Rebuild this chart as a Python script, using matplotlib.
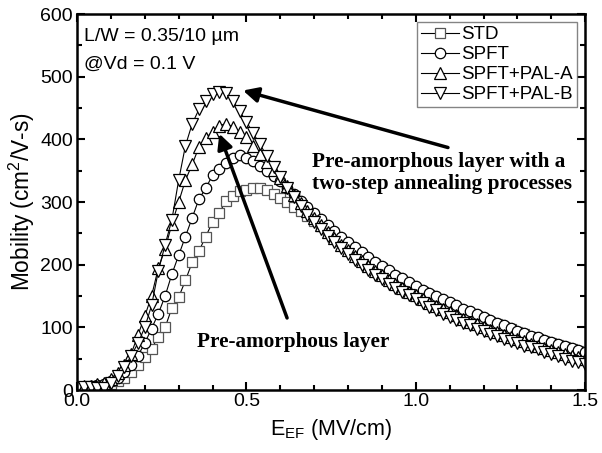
import matplotlib
matplotlib.use("Agg")
import matplotlib.pyplot as plt
from matplotlib.ticker import MultipleLocator, FormatStrFormatter

E_EF = [0.00, 0.02, 0.04, 0.06, 0.08, 0.10, 0.12, 0.14, 0.16, 0.18,
        0.20, 0.22, 0.24, 0.26, 0.28, 0.30, 0.32, 0.34, 0.36, 0.38,
        0.40, 0.42, 0.44, 0.46, 0.48, 0.50, 0.52, 0.54, 0.56, 0.58,
        0.60, 0.62, 0.64, 0.66, 0.68, 0.70, 0.72, 0.74, 0.76, 0.78,
        0.80, 0.82, 0.84, 0.86, 0.88, 0.90, 0.92, 0.94, 0.96, 0.98,
        1.00, 1.02, 1.04, 1.06, 1.08, 1.10, 1.12, 1.14, 1.16, 1.18,
        1.20, 1.22, 1.24, 1.26, 1.28, 1.30, 1.32, 1.34, 1.36, 1.38,
        1.40, 1.42, 1.44, 1.46, 1.48, 1.50]

STD = [3, 3, 4, 5, 6, 9, 14, 20, 29, 40,
       53, 66, 85, 100, 131, 148, 175, 204, 222, 245,
       268, 283, 302, 310, 318, 320, 322, 323, 320, 313,
       307, 300, 292, 286, 278, 270, 262, 254, 246, 238,
       231, 223, 215, 208, 201, 194, 187, 180, 174, 168,
       162, 156, 151, 146, 141, 136, 131, 126, 122, 118,
       113, 109, 105, 101, 97, 93, 89, 85, 82, 78,
       75, 72, 69, 65, 62, 59]

SPFT = [4, 5, 6, 8, 10, 14, 20, 28, 40, 55,
        75, 98, 122, 150, 185, 215, 245, 275, 305, 322,
        343, 352, 363, 370, 375, 371, 366, 358, 350, 341,
        333, 323, 313, 302, 292, 283, 273, 264, 254, 245,
        237, 228, 220, 212, 205, 198, 191, 184, 178, 172,
        166, 160, 155, 150, 145, 140, 135, 130, 126, 121,
        116, 112, 107, 103, 99, 95, 91, 87, 84, 80,
        77, 74, 71, 67, 64, 61]

PAL_A = [5, 6, 7, 9, 12, 17, 27, 40, 58, 88,
         118, 150, 195, 225, 265, 300, 335, 360, 388, 402,
         412, 422, 425, 420, 412, 403, 390, 377, 364, 351,
         338, 325, 311, 298, 286, 274, 263, 252, 242, 232,
         223, 214, 206, 198, 190, 183, 176, 169, 163, 157,
         151, 145, 139, 134, 129, 124, 119, 114, 109, 105,
         100, 96, 92, 88, 85, 81, 78, 74, 71, 67,
         64, 61, 58, 55, 52, 50]

PAL_B = [4, 5, 5, 4, 3, 12, 22, 36, 55, 75,
         100, 135, 190, 232, 272, 335, 390, 425, 448, 462,
         472, 476, 474, 462, 445, 428, 410, 392, 374, 356,
         340, 323, 308, 294, 280, 268, 257, 246, 236, 226,
         217, 208, 200, 192, 184, 177, 170, 163, 157, 151,
         145, 139, 133, 128, 122, 117, 112, 107, 103, 98,
         94, 90, 86, 82, 78, 75, 71, 68, 65, 61,
         58, 55, 50, 47, 44, 41]

series = [
    ("STD", STD, "s", 6.5, "#555555"),
    ("SPFT", SPFT, "o", 7.5, "black"),
    ("SPFT+PAL-A", PAL_A, "^", 9, "black"),
    ("SPFT+PAL-B", PAL_B, "v", 9, "black"),
]

plt.rcParams["font.family"] = ["Liberation Sans", "DejaVu Sans"]

fig = plt.figure(figsize=(6.02, 4.53), dpi=100)
ax = fig.add_axes([0.128, 0.139, 0.844, 0.830])

for name, vals, mk, ms, ec in series:
    ax.plot(E_EF, vals, color="black", lw=0.8, marker=mk, ms=ms,
            mfc="white", mec=ec, mew=0.9, label=name)

ax.set_xlim(0, 1.5)
ax.set_ylim(0, 600)
ax.xaxis.set_major_locator(MultipleLocator(0.5))
ax.xaxis.set_minor_locator(MultipleLocator(0.1))
ax.yaxis.set_major_locator(MultipleLocator(100))
ax.yaxis.set_minor_locator(MultipleLocator(50))
ax.xaxis.set_major_formatter(FormatStrFormatter("%.1f"))
ax.tick_params(which="both", direction="in", top=True, right=True, width=1.5)
ax.tick_params(which="major", length=6, labelsize=14, pad=3)
ax.tick_params(which="minor", length=3.5)
ax.tick_params(axis="x", which="major", pad=2)
for s in ax.spines.values():
    s.set_linewidth(1.8)

ax.set_xlabel("E$_{\\mathregular{EF}}$ (MV/cm)", fontsize=15.5, labelpad=5)
ax.set_ylabel("Mobility (cm$^{\\mathregular{2}}$/V-s)", fontsize=16.3, labelpad=2)

leg = ax.legend(loc="upper right", fontsize=13.5, frameon=True, fancybox=False,
                edgecolor="#666666", borderaxespad=0.45, handlelength=2.0,
                handletextpad=0.15, labelspacing=0.15, borderpad=0.2)
leg.get_frame().set_linewidth(1.0)

ax.text(0.014, 0.962, "L/W = 0.35/10 \u00b5m", transform=ax.transAxes,
        fontsize=14, va="top", ha="left")
ax.text(0.014, 0.890, "@Vd = 0.1 V", transform=ax.transAxes,
        fontsize=14, va="top", ha="left")

serif = dict(family=["Liberation Serif", "DejaVu Serif"], fontweight="bold",
             fontsize=15.3)
ax.text(0.695, 380, "Pre-amorphous layer with a\ntwo-step annealing processes",
        ha="left", va="top", linespacing=1.15, **serif)
ax.text(0.355, 76, "Pre-amorphous layer", ha="left", va="center", **serif)

ap = dict(arrowstyle="-|>,head_length=0.9,head_width=0.45", lw=2.5,
          color="black", shrinkA=0, shrinkB=0)
ax.annotate("", xy=(0.49, 478), xytext=(1.095, 387), arrowprops=ap)
ax.annotate("", xy=(0.42, 409), xytext=(0.62, 115), arrowprops=ap)

fig.savefig("out.png", dpi=100)
